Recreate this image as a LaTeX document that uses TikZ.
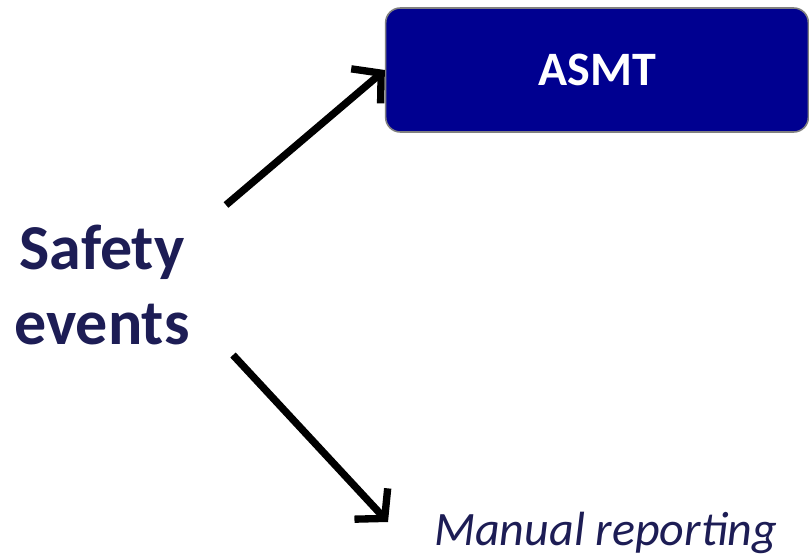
\documentclass[tikz,border=0pt]{standalone}
\usepackage{fontspec}
\setmainfont{Carlito}
\usetikzlibrary{arrows.meta,positioning}
\definecolor{boxblue}{HTML}{000090}
\definecolor{inkblue}{HTML}{1D1D55}
\tikzset{
    x=0.75pt, y=-0.75pt, % pixel grid of the slide
    flow/.style={line width=5.5pt, -{Straight Barb[length=15pt,width=34pt,line width=5.5pt]}},
    sysbox/.style={draw=gray, line width=1.2pt, fill=boxblue, rounded corners=11pt,
        minimum width=317pt, minimum height=93pt, text=white, font=\bfseries\fontsize{36}{40}\selectfont},
}
\begin{document}
\begin{tikzpicture}
   \useasboundingbox (0,0) rectangle (809,556);
   \node[sysbox] (asmt) at (597,70) {ASMT};
   \node[text=inkblue, align=center, font=\bfseries\fontsize{48}{56}\selectfont] (events) at (102,285) {Safety\\events};
   \node[text=inkblue, anchor=base west, font=\itshape\fontsize{36}{40}\selectfont, inner sep=0pt] (manual) at (434,545) {Manual reporting};
   \coordinate (up) at (226,205);
   \coordinate (down) at (233,355);
   \coordinate (hit) at (388,522);
   \draw[flow] (up) -- (asmt.west);
   \draw[flow] (down) -- (hit);
\end{tikzpicture}
\end{document}
